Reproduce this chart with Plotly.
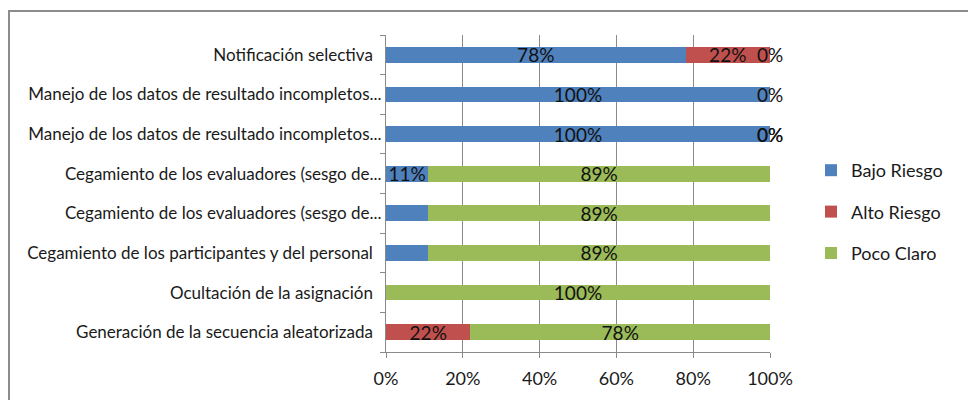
import plotly.graph_objects as go

# ---- data (bottom to top) ----
categories = [
    "Generación de la secuencia aleatorizada\u00a0\u00a0",
    "Ocultación de la asignación\u00a0\u00a0",
    "Cegamiento de los participantes y del personal\u00a0\u00a0",
    "Cegamiento de los evaluadores (sesgo de...",
    "Cegamiento de los evaluadores (sesgo de...",
    "Manejo de los datos de resultado incompletos...",
    "Manejo de los datos de resultado incompletos...",
    "Notificación selectiva\u00a0\u00a0",
]
series_names = ["Bajo Riesgo", "Alto Riesgo", "Poco Claro"]
bajo = [0, 0, 11, 11, 11, 100, 100, 78]
alto = [22, 0, 0, 0, 0, 0, 0, 22]
poco = [78, 100, 89, 89, 89, 0, 0, 0]
# data labels as displayed in the chart ("" = not shown)
bajo_labels = ["", "", "", "", "11%", "100%", "100%", "78%"]
alto_labels = ["22%", "", "", "", "", "0%", "0%", "22%"]
poco_labels = ["78%", "100%", "89%", "89%", "89%", "0%", "", "0%"]
colors = ["#4F81BD", "#C0504D", "#9BBB59"]
x_ticks = [0, 20, 40, 60, 80, 100]
x_tick_labels = ["0%", "20%", "40%", "60%", "80%", "100%"]

FONT = "Lato"
GRAY = "#8a8a8a"

ypos = list(range(len(categories)))
values = [bajo, alto, poco]
labels = [bajo_labels, alto_labels, poco_labels]

fig = go.Figure()
base = [0] * len(categories)
text_x, text_y, text_s = [], [], []
for i, (name, vals, labs, col) in enumerate(zip(series_names, values, labels, colors)):
    fig.add_trace(go.Bar(
        y=ypos, x=vals, base=base, orientation="h", name=name,
        marker=dict(color=col, line=dict(width=0)),
        legendgroup=name, hoverinfo="x+name",
    ))
    for j, (v, l) in enumerate(zip(vals, labs)):
        if l:
            text_x.append(base[j] + v / 2)
            text_y.append(ypos[j] - 0.07)
            text_s.append(l)
    base = [b + v for b, v in zip(base, vals)]

fig.add_trace(go.Scatter(
    x=text_x, y=text_y, text=text_s, mode="text",
    textposition="middle center",
    textfont=dict(family=FONT, size=19, color="#111111"),
    showlegend=False, hoverinfo="skip", cliponaxis=False,
))

L, R, T, B = 386, 198, 35, 48
W, H = 968, 400
pw, ph = W - L - R, H - T - B

def px_x(x):
    return (x - L) / pw

def px_y(y):
    return 1 - (y - T) / ph

fig.update_layout(
    width=W, height=H,
    margin=dict(l=L, r=R, t=T, b=B),
    paper_bgcolor="white", plot_bgcolor="white",
    barmode="stack", bargap=0.6,
    font=dict(family=FONT, size=17, color="#1a1a1a"),
    legend=dict(
        x=px_x(811), y=px_y(152), xanchor="left", yanchor="top",
        font=dict(family=FONT, size=18, color="#1a1a1a"),
        traceorder="grouped", tracegroupgap=15,
        bgcolor="rgba(0,0,0,0)",
    ),
    xaxis=dict(
        range=[0, 100], tickvals=x_ticks, ticktext=x_tick_labels,
        showgrid=True, gridcolor=GRAY, gridwidth=1,
        showline=True, linecolor=GRAY, linewidth=1,
        ticks="outside", ticklen=5, tickcolor=GRAY,
        ticklabelstandoff=5,
        tickfont=dict(size=18), zeroline=False, fixedrange=True,
    ),
    yaxis=dict(
        range=[-0.5, len(categories) - 0.5],
        tickvals=ypos, ticktext=categories,
        ticks="", showgrid=False, zeroline=False,
        showline=True, linecolor=GRAY, linewidth=1,
        minor=dict(ticks="outside", ticklen=5, tickcolor=GRAY,
                   tick0=0.5, dtick=1, showgrid=False),
        tickfont=dict(size=17), fixedrange=True,
    ),
    shapes=[dict(
        type="path", xref="paper", yref="paper",
        path=f"M {px_x(9)},{px_y(420)} L {px_x(9)},{px_y(11)} L {px_x(990)},{px_y(11)}",
        line=dict(color="#8c8c8c", width=2), layer="above",
    )],
)

fig.write_html("out.html", config={"displayModeBar": False},
               post_script="document.body.style.margin='0px';")
